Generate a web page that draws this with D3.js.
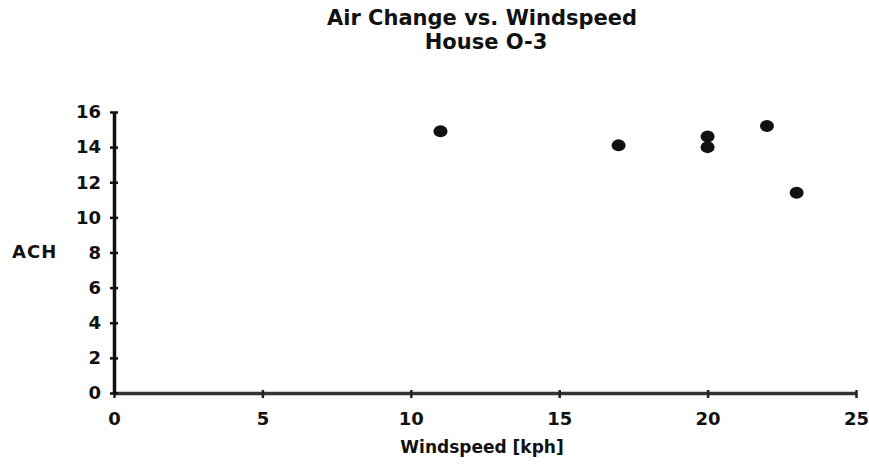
<!DOCTYPE html>
<html>
<head>
<meta charset="utf-8">
<script src="https://cdn.jsdelivr.net/npm/d3@7/dist/d3.min.js"></script>
<style>
  html, body { margin: 0; padding: 0; background: #fff; }
  svg { display: block; }
  text { font-family: "DejaVu Sans", sans-serif; font-weight: bold; fill: #111; }
</style>
</head>
<body>
<svg id="chart" width="869" height="464"></svg>
<script>
// Data
const windspeed = [11, 17, 20, 20, 22, 23];
const ach       = [14.9, 14.1, 14.6, 14.0, 15.2, 11.4];
const xTicks = [0, 5, 10, 15, 20, 25];
const yTicks = [0, 2, 4, 6, 8, 10, 12, 14, 16];
const titleLines = ["Air Change vs. Windspeed", "House O-3"];
const xLabel = "Windspeed [kph]";
const yLabel = "ACH";

const svg = d3.select("#chart");
const x = d3.scaleLinear().domain([0, 25]).range([114, 856]);
const y = d3.scaleLinear().domain([0, 16]).range([393, 112]);

// Title
svg.append("text").attr("x", 482).attr("y", 25).attr("text-anchor", "middle")
  .style("font-size", "21px").text(titleLines[0]);
svg.append("text").attr("x", 486).attr("y", 49).attr("text-anchor", "middle")
  .style("font-size", "21px").text(titleLines[1]);

// X axis
const xAxis = svg.append("g").attr("transform", `translate(0,${y(0)})`)
  .call(d3.axisBottom(x).tickValues(xTicks).tickSize(5).tickPadding(14).tickSizeOuter(0));
xAxis.select(".domain").attr("stroke", "#333").attr("stroke-width", 3.5);
xAxis.selectAll(".tick line").attr("stroke", "#222").attr("stroke-width", 2.5).attr("y1", -3).attr("y2", 5);
xAxis.selectAll(".tick text").style("font-size", "18px").attr("fill", "#111");

// Y axis
const yAxis = svg.append("g").attr("transform", `translate(${x(0)},0)`)
  .call(d3.axisLeft(y).tickValues(yTicks).tickSize(4).tickPadding(9).tickSizeOuter(0));
yAxis.select(".domain").attr("stroke", "#111").attr("stroke-width", 3.5);
yAxis.selectAll(".tick line").attr("stroke", "#111").attr("stroke-width", 2.5).attr("x1", -4).attr("x2", 4);
yAxis.selectAll(".tick text").style("font-size", "18px").attr("fill", "#111");

// Axis labels
svg.append("text").attr("x", 482).attr("y", 453).attr("text-anchor", "middle")
  .style("font-size", "17px").text(xLabel);
svg.append("text").attr("x", 12).attr("y", 258)
  .style("font-size", "18px").style("letter-spacing", "1px").text(yLabel);

// Points
svg.append("g").selectAll("ellipse")
  .data(windspeed.map((w, i) => ({ w, a: ach[i] })))
  .join("ellipse")
  .attr("cx", d => x(d.w))
  .attr("cy", d => y(d.a))
  .attr("rx", 7)
  .attr("ry", 6)
  .attr("fill", "#111");
</script>
</body>
</html>
